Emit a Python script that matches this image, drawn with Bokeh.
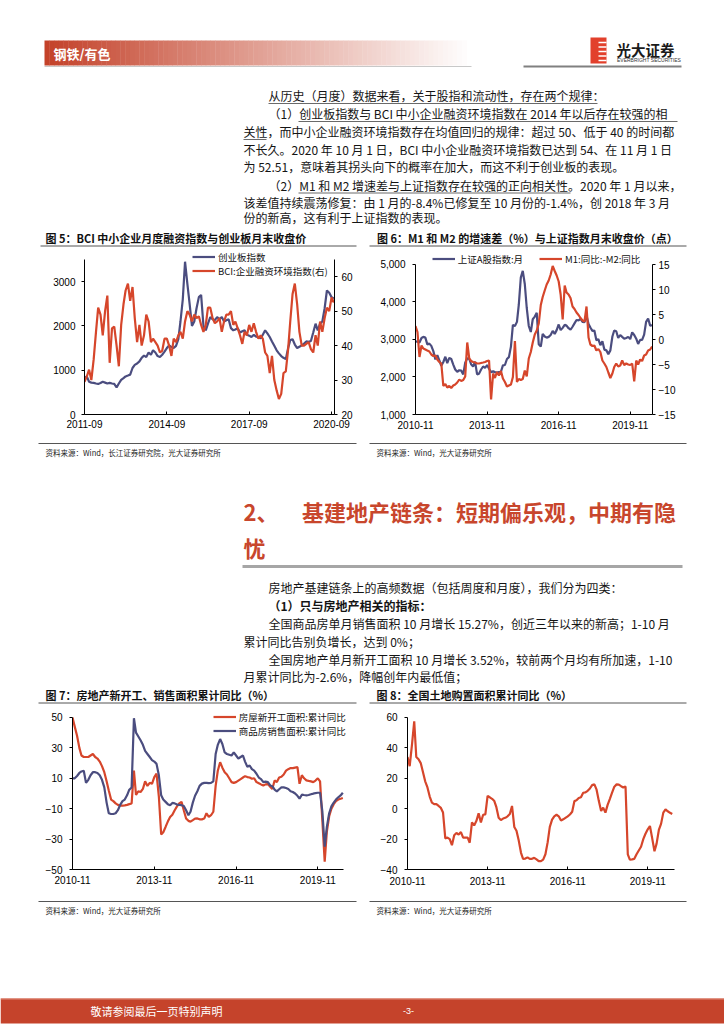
import pandas as pd
from bokeh.plotting import figure
from bokeh.models import (Range1d, LinearAxis, FixedTicker, DatetimeTickFormatter,
                          NumeralTickFormatter, Legend, LegendItem)
from bokeh.layouts import column, row
from bokeh.core.properties import value
from bokeh.embed import file_html
from bokeh.resources import INLINE

# ---------------- data ----------------
# Fig 5: monthly, 2011-09 .. 2020-10
months5 = pd.date_range("2011-09-01", periods=110, freq="MS")
chinext = [820, 860, 740, 720, 715, 700, 690, 710, 740, 720,
           700, 715, 700, 690, 610, 700, 780, 820, 860, 880,
           900, 1050, 1120, 1150, 1200, 1280, 1330, 1300, 1400, 1350,
           1450, 1400, 1320, 1300, 1350, 1420, 1500, 1560, 1520, 1500,
           1550, 1700, 2100, 2600, 3450, 2950, 2500, 2000, 2100, 2400,
           2650, 2700, 2000, 1900, 2050, 2200, 2150, 2130, 2200, 2150,
           2200, 2100, 2130, 2150, 1950, 1900, 1920, 1950, 1850, 1880,
           1900, 1800, 1780, 1750, 1800, 1760, 1750, 1720, 1800, 1900,
           1830, 1750, 1650, 1550, 1450, 1380, 1320, 1280, 1250, 1500,
           1680, 1700, 1580, 1500, 1530, 1560, 1600, 1650, 1640, 1660,
           1850, 2050, 1900, 2050, 2100, 2400, 2800, 2750, 2650, 2620]
bci = [29.5, 31, 33, 30, 36, 44, 51, 49, 43, 50,
       54.5, 35, 45, 45.5, 40, 34, 46, 52, 56, 58,
       53, 57, 48, 41, 46, 40, 43, 49, 47, 41,
       42, 41, 40, 38, 38.5, 42, 42, 40, 37, 42,
       41, 43, 44, 42, 47, 50, 49, 47, 49, 48,
       48.5, 46, 44, 46, 51, 51, 48, 46.5, 47, 48,
       44, 47, 49, 49, 50, 46, 47, 45, 43, 40.5,
       44, 43, 46, 44, 46.5, 44, 42, 43, 42, 38,
       37, 32, 37, 30, 27, 24.5, 26, 32, 32.5, 39,
       47, 55, 58, 52, 44, 40, 40, 40.5, 41, 39,
       38, 43, 40, 47, 44, 48, 51, 50, 54, 52.5]
ticks5 = ["2011-09", "2014-09", "2017-09", "2020-09"]

# Figs 6-8: monthly, 2010-11 .. 2020-10
months = pd.date_range("2010-11-01", periods=120, freq="MS")
sh_a = [2950, 2940, 2920, 3040, 3070, 3050, 2870, 2890, 2830, 2690,
        2470, 2580, 2440, 2300, 2400, 2540, 2370, 2510, 2480, 2330,
        2200, 2140, 2180, 2170, 2070, 2380, 2500, 2480, 2340, 2280,
        2410, 2070, 2090, 2200, 2280, 2240, 2320, 2220, 2130, 2150,
        2130, 2120, 2130, 2140, 2310, 2320, 2480, 2530, 2810, 3390,
        3360, 3470, 3920, 4650, 4830, 4480, 3840, 3360, 3200, 3540,
        3610, 3710, 2870, 2810, 3150, 3080, 3050, 3070, 3120, 3230,
        3150, 3250, 3400, 3250, 3310, 3390, 3370, 3300, 3260, 3340,
        3430, 3520, 3510, 3550, 3470, 3460, 3640, 3410, 3320, 3230,
        3240, 2980, 3010, 2850, 2950, 2730, 2710, 2610, 2710, 3080,
        3240, 3220, 3040, 3120, 3070, 3020, 3040, 3070, 3010, 3190,
        3120, 3020, 2880, 2990, 2990, 3130, 3470, 3560, 3370, 3380]
m1_m2 = [2.7, 1.5, -3.5, -1.2, -1.8, -2.0, -2.2, -2.4, -3.0, -3.3,
         -3.2, -4.0, -4.5, -4.8, -9.3, -8.9, -9.6, -9.3, -9.7, -9.2,
         -9.0, -8.6, -8.0, -8.3, -8.1, -7.4, -0.6, -3.8, -4.3, -4.5,
         -4.6, -4.8, -4.8, -4.7, -4.6, -4.5, -4.3, -4.2, -12.0, -6.8,
         -7.7, -6.5, -7.2, -6.3, -7.8, -8.5, -9.4, -9.2, -9.0, -7.5,
         -0.3, -8.5, -7.9, -8.1, -7.9, -6.2, -7.4, -3.8, -2.5, -0.6,
         1.0, 1.8, 3.2, 6.9, 8.5, 9.8, 11.0, 11.8, 13.0, 14.7,
         13.7, 12.8, 11.6, 9.0, 4.0, 10.8, 9.4, 9.0, 8.3, 6.6,
         6.1, 5.4, 4.9, 4.3, 3.8, 3.6, 6.6, 0.4, -1.0, -1.3,
         -1.2, -2.2, -1.9, -2.5, -4.2, -4.8, -5.5, -6.6, -7.7, -6.8,
         -5.5, -4.8, -5.4, -5.2, -4.2, -5.1, -4.8, -5.0, -5.1, -4.8,
         -8.4, -4.2, -5.0, -4.0, -4.3, -3.2, -3.0, -2.2, -2.0, -1.4]
new_start = [50, 44, 38, 30, 25, 24, 24, 24, 25, 26,
             24, 23, 21, 18, 14, 8, 2, -4, -5, -6.5,
             -7.5, -8, -8, -7.8, -7.5, -7, -6.6, 15, -1, 1.5,
             1, 3, 8, 5, 7, 6.4, 10.8, 13, -2, -27,
             -25.5, -22, -18.5, -15.5, -14, -11, -8.5, -6.5, -5.5, -11,
             -16.4, -18, -18.5, -17.5, -16.5, -16.4, -17, -17, -16.5, -13,
             -15.4, -14.3, -12, 5, 15, 20.6, 17, 14, 12.5, 10,
             7.5, 7, 7.5, 8.5, 9.5, 10.5, 11.4, 10.8, 10.5, 9.7,
             10, 7.5, 6.8, 6, 5.3, 6, 6.2, 4.5, 3, 8.6,
             7.5, 10.5, 11, 12.5, 15, 16, 16.7, 16.7, 17, 17.3,
             6.4, 12, 10, 8.6, 8.3, 8, 7.5, 8.5, 10, 8,
             -18, -44.8, -25, -15, -10, -7, -5, -4, -3.5, -3]
sales = [10, 10, 11.5, 13.5, 14.5, 15, 7, 9, 12, 14,
         14, 13.5, 12, 9, 4, -6, -13, -13.5, -13.5, -13,
         -11, -7.5, -5, -4, -1.2, 2.5, 4, 49.5, 40, 37.5,
         35, 32, 28, 26, 24, 22, 21, 19.5, 12, -1.2,
         -4, -5.5, -7, -7.7, -6.2, -6.5, -7.3, -7.5, -7.7, -8.2,
         -11, -14.3, -12, -6, -1.5, 1.5, 5, 6.5, 7, 7,
         6.8, 7, 8, 26, 32, 35.8, 32.6, 27, 26, 25.5,
         25, 27, 25, 23, 24, 25, 21, 17.5, 18.4, 16,
         15, 13, 10.5, 9.5, 7.5, 7.8, 7.5, 5.3, 4.8, 2.5,
         1.4, 2.8, 4, 4, 3.6, 3, 1.5, 1, 0, -1.5,
         -3.4, -0.8, -1, -1.2, -1, -0.5, -0.1, 0.3, 0.5, 0.5,
         -12, -35, -22, -13, -8.5, -6, -4, -2.5, -1.3, 0.5]
land = [34, 28, 42, 57.5, 34, 32.5, 30, 24, 18, 14,
        8, 4, 3, 3, 1.8, 0.5, -2.5, -19.5, -19, -20,
        -24, -17.5, -16, -17, -15.4, -19, -19, -19, -22.4, -9,
        -11, -8, -3, -9, -4, -3.7, 8.4, 7.5, 6.5, 5,
        1, -6, -7.5, -6.5, -6, -5, -3.5, 1.8, -12, -14.5,
        -21, -29, -33, -32.8, -32, -33, -33, -32.3, -33.3, -34.5,
        -34.5, -33.5, -30, -22, -12, -7.2, -5, -4, -5, -7.8,
        -7, -6, -5, -3.8, -2, 5, 5.5, 7, 7.5, 10.5,
        10.7, 11.8, 13.3, 15.5, 16, 12.5, 5, -1.5, 0.7, -2.6,
        2.5, 6.5, 10.5, 14.5, 16, 15.8, 14.8, 14, 14.5, -30,
        -33.5, -33.3, -33, -30, -27.5, -25, -20, -16.5, -13.6, -11.4,
        -19.5, -28, -23, -14, -10, -2.6, -0.5, -1.7, -2.7, -3.5]
ticks_m = ["2010-11", "2013-11", "2016-11", "2019-11"]

# ---------------- style ----------------
CJK = "Noto Sans CJK SC"
LAT = "Liberation Sans"
RED = "#D6462B"
BLUE = "#4B4D7F"
HEAD = "#C8462C"
INK = "#141414"
W = 724


def ms(s):
    return pd.Timestamp(s).value / 1e6


def ts(s):
    return pd.Timestamp(s).to_pydatetime()


def band(y0, y1):
    p = figure(width=W, height=y1 - y0, x_range=Range1d(0, W), y_range=Range1d(y1, y0),
               toolbar_location=None, output_backend="svg", min_border=0,
               x_axis_location=None, y_axis_location=None)
    p.grid.visible = False
    p.outline_line_color = None
    return p


def txt(p, x, y, s, size="12px", color=INK, bold=False, align="left", font=CJK):
    p.text(x=[x], y=[y], text=[s], text_font=value(font), text_font_size=size,
           text_color=color, text_align=align, text_baseline="middle",
           text_font_style="bold" if bold else "normal")


def hline(p, x0, x1, y, color="#7a7a7a", w=1.0):
    p.segment(x0=[x0], y0=[y], x1=[x1], y1=[y], line_color=color, line_width=w)


def style(ax, standoff, tin, tout):
    ax.axis_line_color = "#000000"
    ax.axis_line_width = 1
    ax.major_tick_line_color = "#000000"
    ax.major_tick_in = tin
    ax.major_tick_out = tout
    ax.minor_tick_line_color = None
    ax.major_label_text_font = LAT
    ax.major_label_text_font_size = "10px"
    ax.major_label_text_color = "#000000"
    ax.major_label_standoff = standoff


def chart(w, h, bl, br, bt, bb, x0, x1, xend, y0, y1, ytop, yticks, xticks, ystand, xstand, yfmt=None):
    # ranges extend to xend / ytop so the legend has room; axis lines are bounded at x1 / y1
    p = figure(width=w, height=h, x_axis_type="datetime",
               x_range=Range1d(ts(x0), ts(xend)), y_range=Range1d(y0, ytop),
               toolbar_location=None, output_backend="svg",
               min_border_left=bl, min_border_right=br, min_border_top=bt, min_border_bottom=bb)
    p.grid.visible = False
    p.outline_line_color = None
    xa = p.xaxis[0]
    xa.ticker = FixedTicker(ticks=[ms(t) for t in xticks])
    xa.formatter = DatetimeTickFormatter(days="%Y-%m", months="%Y-%m", years="%Y-%m")
    xa.bounds = (ms(x0), ms(x1))
    style(xa, xstand, 3, 0)
    ya = p.yaxis[0]
    ya.ticker = FixedTicker(ticks=yticks)
    ya.bounds = (y0, y1)
    if yfmt is not None:
        ya.formatter = yfmt
    style(ya, ystand, 0, 3)
    return p


def legend(p, items, loc, orientation="vertical", spacing=0):
    lg = Legend(items=[LegendItem(label=l, renderers=[r]) for l, r in items],
                location=loc, orientation=orientation, spacing=spacing,
                padding=0, margin=0, glyph_width=23, glyph_height=13, label_height=13,
                label_standoff=3, label_text_font=CJK, label_text_font_size="9.5px",
                label_text_color="#111111", background_fill_alpha=0, border_line_color=None)
    p.add_layout(lg)


# ---------------- band A: header + paragraph + chart titles ----------------
A = band(0, 247)
n = 90
x0g, x1g = 44.0, 471.0
dx = (x1g - x0g) / n
lefts = [x0g + k * dx for k in range(n)]
cols = []
for k in range(n):
    t = k / (n - 1)
    r = int(196 + (255 - 196) * t)
    g = int(66 + (255 - 66) * t)
    b = int(42 + (255 - 42) * t)
    cols.append("#%02x%02x%02x" % (r, g, b))
A.quad(left=lefts, right=[l + dx + 0.4 for l in lefts], top=[40] * n, bottom=[65] * n,
       fill_color=cols, line_color=None)
hline(A, 44, 471, 66, "#c8c8c8", 1)
txt(A, 53, 52.5, "钢铁/有色", "13px", "#ffffff", bold=True)
# logo
A.quad(left=[590], right=[606], top=[37], bottom=[63], fill_color="#E2402C", line_color=None)
A.segment(x0=[598] * 5, x1=[606] * 5, y0=[42, 46.5, 51, 55.5, 60], y1=[42, 46.5, 51, 55.5, 60],
          line_color="#ffffff", line_width=1.3)
txt(A, 616, 48.5, "光大证券", "14.5px", "#1a1a1a", bold=True)
txt(A, 616.5, 59.5, "EVERBRIGHT SECURITIES", "5px", "#333333", font=LAT)
hline(A, 523, 681, 66, "#808080", 2)

para = [
    (268, 95, "从历史（月度）数据来看，关于股指和流动性，存在两个规律："),
    (268, 113, "（1）创业板指数与 BCI 中小企业融资环境指数在 2014 年以后存在较强的相"),
    (243, 131, "关性，而中小企业融资环境指数存在均值回归的规律：超过 50、低于 40 的时间都"),
    (243, 148.5, "不长久。2020 年 10 月 1 日，BCI 中小企业融资环境指数已达到 54、在 11 月 1 日"),
    (243, 166, "为 52.51，意味着其拐头向下的概率在加大，而这不利于创业板的表现。"),
    (268, 184.5, "（2）M1 和 M2 增速差与上证指数存在较强的正向相关性。2020 年 1 月以来，"),
    (243, 201.5, "该差值持续震荡修复：由 1 月的-8.4%已修复至 10 月份的-1.4%，创 2018 年 3 月"),
    (243, 217, "份的新高，这有利于上证指数的表现。"),
]
for x, y, s in para:
    txt(A, x, y, s, "12px")
hline(A, 268, 597, 103, "#6a6a6a", 1)
hline(A, 298, 677, 121, "#6a6a6a", 1)
hline(A, 243, 266, 139, "#6a6a6a", 1)
hline(A, 298, 570, 192.5, "#6a6a6a", 1)

txt(A, 45, 237, "图 5：BCI 中小企业月度融资指数与创业板月末收盘价", "11px", "#111111", bold=True)
txt(A, 376.5, 237, "图 6：M1 和 M2 的增速差（%）与上证指数月末收盘价（点）", "11px", "#111111", bold=True)
hline(A, 40, 356, 245.5, "#555555", 1)
hline(A, 369, 686, 245.5, "#555555", 1)

# ---------------- row 1: charts 5 and 6 (canvas y 247..440, frames 247..414) ----------------
p5 = chart(367, 193, 84, 33, 0, 26, "2011-09-01", "2020-10-10", "2020-10-10", 0, 3500, 3771,
           [0, 1000, 2000, 3000], ticks5, 6, 5)
p5.extra_y_ranges = {"r": Range1d(20, 68.48)}
ax5 = LinearAxis(y_range_name="r", ticker=FixedTicker(ticks=[20, 30, 40, 50, 60]), bounds=(20, 65))
style(ax5, 4, 0, 3)
p5.add_layout(ax5, "right")
r5b = p5.line(months5, chinext, line_color=BLUE, line_width=2.2)
r5r = p5.line(months5, bci, line_color=RED, line_width=2.2, y_range_name="r")
legend(p5, [("创业板指数", r5b), ("BCI:企业融资环境指数(右)", r5r)], (108, 136.5))

p6 = chart(357, 193, 48, 72, 0, 26, "2010-11-01", "2020-10-07", "2020-10-07", 1000, 5000, 5453,
           [1000, 2000, 3000, 4000, 5000], ticks_m, 7, 6, NumeralTickFormatter(format="0,0"))
p6.extra_y_ranges = {"r": Range1d(-15, 18.4)}
ax6 = LinearAxis(y_range_name="r", ticker=FixedTicker(ticks=[-15, -10, -5, 0, 5, 10, 15]), bounds=(-15, 15))
style(ax6, 3, 0, 3)
p6.add_layout(ax6, "right")
r6b = p6.line(months, sh_a, line_color=BLUE, line_width=2.2)
r6r = p6.line(months, m1_m2, line_color=RED, line_width=2.2, y_range_name="r")
legend(p6, [("上证A股指数:月", r6b), ("M1:同比:-M2:同比", r6r)], (16.7, 148.2),
       orientation="horizontal", spacing=16)

# ---------------- band B ----------------
B = band(440, 705)
hline(B, 38, 356, 443, "#555555", 1.2)
hline(B, 369, 686, 443, "#555555", 1.2)
txt(B, 45, 452, "资料来源：Wind，长江证券研究院，光大证券研究所", "7.5px", "#222222")
txt(B, 376, 452, "资料来源：Wind，光大证券研究所", "7.5px", "#222222")
txt(B, 243, 510, "2、", "22px", HEAD, bold=True)
txt(B, 301.5, 510, "基建地产链条：短期偏乐观，中期有隐", "22px", HEAD, bold=True)
txt(B, 243, 546.5, "忧", "22px", HEAD, bold=True)
hline(B, 242, 682, 566, "#a6a6a6", 3)
body = [
    (268, 587, "房地产基建链条上的高频数据（包括周度和月度），我们分为四类：", False),
    (268, 605, "（1）只与房地产相关的指标：", True),
    (268, 623, "全国商品房单月销售面积 10 月增长 15.27%，创近三年以来的新高；1-10 月", False),
    (243, 641, "累计同比告别负增长，达到 0%；", False),
    (268, 659, "全国房地产单月新开工面积 10 月增长 3.52%，较前两个月均有所加速，1-10", False),
    (243, 676, "月累计同比为-2.6%，降幅创年内最低值；", False),
]
for x, y, s, b in body:
    txt(B, x, y, s, "12px", bold=b)
txt(B, 45, 694, "图 7：房地产新开工、销售面积累计同比（%）", "11px", "#111111", bold=True)
txt(B, 376, 694, "图 8：全国土地购置面积累计同比（%）", "11px", "#111111", bold=True)
hline(B, 38, 356, 702.5, "#555555", 1)
hline(B, 369, 686, 702.5, "#555555", 1)

# ---------------- row 2: charts 7 and 8 (canvas y 705..895, frames 705..869) ----------------
p7 = chart(367, 190, 72, 4, 0, 26, "2010-11-01", "2020-10-10", "2021-07-05", -50, 50, 57.89,
           [-50, -30, -10, 10, 30, 50], ticks_m, 7, 6)
r7r = p7.line(months, new_start, line_color=RED, line_width=2.2)
r7b = p7.line(months, sales, line_color=BLUE, line_width=2.2)
legend(p7, [("房屋新开工面积:累计同比", r7r), ("商品房销售面积:累计同比", r7b)], (140.7, 131.5))

p8 = chart(357, 190, 40, 50, 0, 26, "2010-11-01", "2020-11-01", "2020-11-01", -40, 60, 67.89,
           [-40, -20, 0, 20, 40, 60], ticks_m, 7, 7)
p8.line(months, land, line_color=RED, line_width=2.2)

# ---------------- band C ----------------
C = band(895, 1024)
hline(C, 38, 356, 901, "#555555", 1.2)
hline(C, 369, 686, 901, "#555555", 1.2)
txt(C, 45, 910, "资料来源：Wind，光大证券研究所", "7.5px", "#222222")
txt(C, 376, 910, "资料来源：Wind，光大证券研究所", "7.5px", "#222222")
C.quad(left=[0], right=[W], top=[998], bottom=[1023], fill_color="#C5432B", line_color=None)
hline(C, 0, W, 998.5, "#E08A78", 1)
txt(C, 90, 1010, "敬请参阅最后一页特别声明", "11px", "#ffffff")
txt(C, 408, 1010, "-3-", "9px", "#ffffff", align="center", font=LAT)

layout = column(A, row(p5, p6), B, row(p7, p8), C)
open("out.html", "w").write(file_html(layout, INLINE))
